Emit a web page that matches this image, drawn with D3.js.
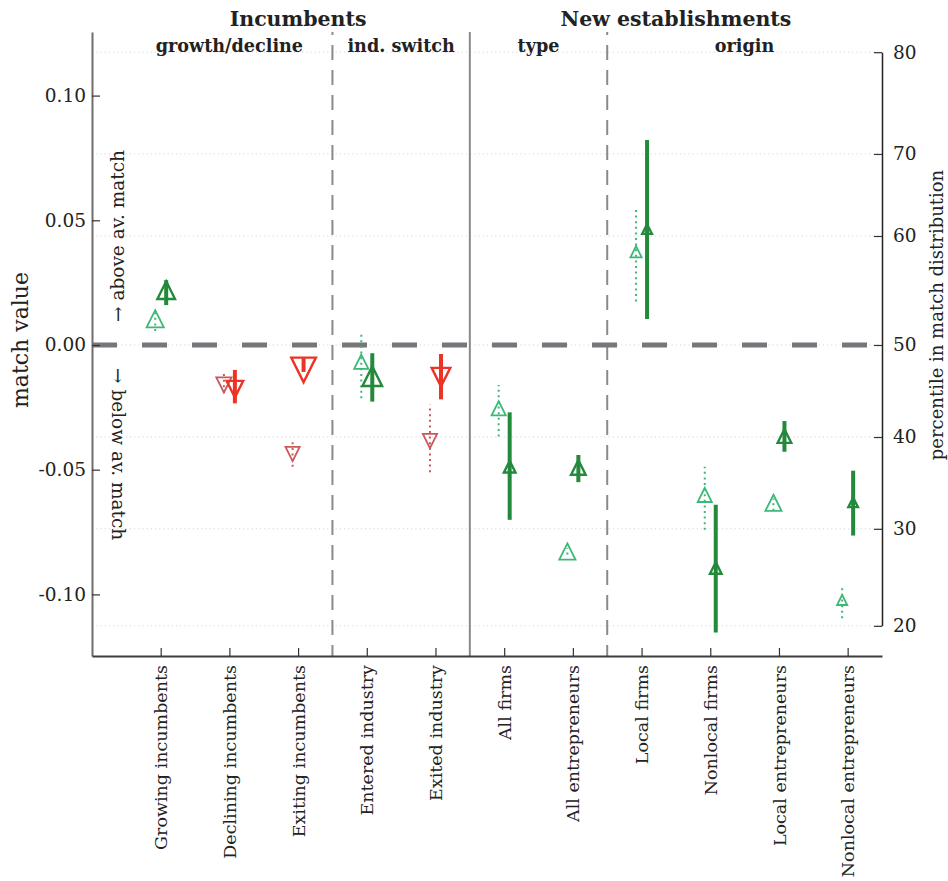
<!DOCTYPE html>
<html><head><meta charset="utf-8">
<script src="https://cdn.jsdelivr.net/npm/d3@7"></script>
<style>body{margin:0;background:#fff} svg{font-family:"DejaVu Serif",serif;}</style>
</head><body><svg id="c" width="948" height="881"></svg>
<script>
// ---------- data ----------
const categories = ["Growing incumbents","Declining incumbents","Exiting incumbents","Entered industry","Exited industry",
  "All firms","All entrepreneurs","Local firms","Nonlocal firms","Local entrepreneurs","Nonlocal entrepreneurs"];
const direction = ["up","down","down","up","down","up","up","up","up","up","up"];
// light series (dotted error bars)
const lightValue = [0.0105,-0.0160,-0.0437,-0.0067,-0.0385,-0.0254,-0.0828,0.0374,-0.0601,-0.0633,-0.1022];
const lightLow   = [0.0056,-0.0192,-0.0488,-0.0214,-0.0510,-0.0367,-0.0840,0.0174,-0.0741,-0.0665,-0.1096];
const lightHigh  = [0.0130,-0.0112,-0.0380,0.0053,-0.0240,-0.0160,-0.0815,0.0548,-0.0488,-0.0615,-0.0966];
const lightSize  = [19,17,16,16,16,16,18,13,16,18,12];
// dark series (solid error bars)
const darkValue = [0.0220,-0.0177,-0.0100,-0.0125,-0.0129,-0.0488,-0.0491,0.0465,-0.0894,-0.0365,-0.0631];
const darkLow   = [0.0160,-0.0234,-0.0108,-0.0227,-0.0218,-0.0701,-0.0550,0.0104,-0.1153,-0.0428,-0.0764];
const darkHigh  = [0.0260,-0.0100,-0.0053,-0.0033,-0.0036,-0.0270,-0.0441,0.0822,-0.0641,-0.0305,-0.0504];
const darkSize  = [20,19,27,22,21,14,17,12,14,16,12];
// axes
const leftTicks = [-0.10,-0.05,0.00,0.05,0.10];
const pctTicks  = [20,30,40,50,60,70,80];
const pctMatch  = [-0.1126,-0.0737,-0.0369,0.0,0.0437,0.0766,0.1174];
// groups
const groups = ["Incumbents","New establishments"];
const groupSpan = [[0,4],[5,10]];
const subgroups = ["growth/decline","ind. switch","type","origin"];
const subSpan = [[0,2],[3,4],[5,6],[7,10]];

// ---------- layout ----------
const svg = d3.select("#c");
const L=92, R=882, T=32, B=656;
const x = d3.scaleLinear().domain([-1,10.5]).range([L,R]);
const y = d3.scaleLinear().domain([-0.1247,0.1255]).range([B,T]);
const yPct = d3.scaleLinear().domain(pctTicks).range(pctMatch.map(v=>y(v)));
const off = 0.08;
const col = {
  up:{light:"#3cb878", dark:"#23893b"},
  down:{light:"#c9585b", dark:"#ec3325"}
};

// gridlines
svg.append("g").selectAll("line").data(pctTicks).join("line")
  .attr("x1",L).attr("x2",R).attr("y1",d=>yPct(d)).attr("y2",d=>yPct(d))
  .attr("stroke","#d6d6d6").attr("stroke-width",1).attr("stroke-dasharray","1.2,3");

// separators
const seps = [];
for(let k=0;k<subSpan.length-1;k++){
  const pos=(subSpan[k][1]+subSpan[k+1][0])/2;
  const solid = groupSpan.some(g=>g[1]===subSpan[k][1]);
  seps.push({pos,solid});
}
svg.append("g").selectAll("line").data(seps).join("line")
  .attr("x1",d=>x(d.pos)).attr("x2",d=>x(d.pos)).attr("y1",T).attr("y2",B)
  .attr("stroke","#8a8a8c").attr("stroke-width",2)
  .attr("stroke-dasharray",d=>d.solid?null:"15,10").attr("stroke-dashoffset",12);

// zero line
svg.append("line").attr("x1",L).attr("x2",R).attr("y1",y(0)).attr("y2",y(0))
  .attr("stroke","#77777b").attr("stroke-width",5).attr("stroke-dasharray","25,25");

// axes
const fmt = d=>d.toFixed(2);
const gl = svg.append("g").attr("transform",`translate(${L},0)`)
  .call(d3.axisLeft(y).tickValues(leftTicks).tickFormat(fmt).tickSizeInner(-8).tickSizeOuter(0).tickPadding(6));
gl.select(".domain").attr("stroke","#6e6e6e").attr("stroke-width",2);
const gr = svg.append("g").attr("transform",`translate(${R},0)`)
  .call(d3.axisRight(yPct).tickValues(pctTicks).tickSizeInner(-8).tickSizeOuter(0).tickPadding(11));
gr.select(".domain").attr("stroke","#222").attr("stroke-width",1.5);
const gb = svg.append("g").attr("transform",`translate(0,${B})`)
  .call(d3.axisBottom(x).tickValues(d3.range(categories.length)).tickFormat(i=>categories[i]).tickSizeInner(-8).tickSizeOuter(0));
gb.select(".domain").attr("stroke","#3d3d3d").attr("stroke-width",2);
gb.selectAll("text").attr("x",-9).attr("y",0).attr("dy","0.35em").attr("transform","rotate(-90)").style("text-anchor","end");
[gl,gr].forEach(g=>{
  g.selectAll("text").attr("fill","#222").style("font-family","DejaVu Serif").style("font-size","18.5px");
});
gb.selectAll("text").attr("fill","#222").style("font-family","DejaVu Serif").style("font-size","17.5px");
[gl,gr,gb].forEach(g=>g.selectAll(".tick line").attr("stroke","#333").attr("stroke-width",1.2));

// axis titles
svg.append("text").attr("transform",`translate(20,340) rotate(-90)`).attr("text-anchor","middle").attr("dy","0.35em")
  .style("font-size","22px").attr("fill","#222").text("match value");
svg.append("text").attr("transform",`translate(937,315) rotate(-90)`).attr("text-anchor","middle").attr("dy","0.35em")
  .style("font-size","18px").attr("fill","#222").text("percentile in match distribution");

// annotations
svg.append("text").attr("transform",`translate(118,322) rotate(-90)`).attr("dy","0.35em")
  .style("font-size","18.5px").attr("fill","#222").text("→ above av. match");
svg.append("text").attr("transform",`translate(118,368) rotate(90)`).attr("dy","0.35em")
  .style("font-size","18.5px").attr("fill","#222").text("→ below av. match");

// headers
svg.append("g").selectAll("text").data(groups).join("text")
  .attr("x",(d,i)=>x((groupSpan[i][0]+groupSpan[i][1])/2)).attr("y",26).attr("text-anchor","middle")
  .style("font-size","20.5px").style("font-weight","bold").attr("fill","#222").text(d=>d);
svg.append("g").selectAll("text").data(subgroups).join("text")
  .attr("x",(d,i)=>x((subSpan[i][0]+subSpan[i][1])/2)).attr("y",52).attr("text-anchor","middle")
  .style("font-size","17.6px").style("font-weight","bold").attr("fill","#222").text(d=>d);

// markers
function tri(s,dir){ return dir==="up" ? `M0,${-s}L${s},${s}L${-s},${s}Z` : `M0,${s}L${s},${-s}L${-s},${-s}Z`; }
const idx = d3.range(categories.length);
const gLight = svg.append("g");
gLight.selectAll("line").data(idx).join("line")
  .attr("x1",i=>x(i-off)).attr("x2",i=>x(i-off)).attr("y1",i=>y(lightLow[i])).attr("y2",i=>y(lightHigh[i]))
  .attr("stroke",i=>col[direction[i]].light).attr("stroke-width",2).attr("stroke-dasharray","2,3.6");
gLight.selectAll("path").data(idx).join("path")
  .attr("transform",i=>`translate(${x(i-off)},${y(lightValue[i])})`)
  .attr("d",i=>tri((lightSize[i]-1.8)/2,direction[i]))
  .attr("fill","none").attr("stroke",i=>col[direction[i]].light).attr("stroke-width",1.8);
const gDark = svg.append("g");
gDark.selectAll("line").data(idx).join("line")
  .attr("x1",i=>x(i+off)).attr("x2",i=>x(i+off)).attr("y1",i=>y(darkLow[i])).attr("y2",i=>y(darkHigh[i]))
  .attr("stroke",i=>col[direction[i]].dark).attr("stroke-width",4);
gDark.selectAll("path").data(idx).join("path")
  .attr("transform",i=>`translate(${x(i+off)},${y(darkValue[i])})`)
  .attr("d",i=>tri((darkSize[i]-2.4)/2,direction[i]))
  .attr("fill","none").attr("stroke",i=>col[direction[i]].dark).attr("stroke-width",2.4);
</script></body></html>
